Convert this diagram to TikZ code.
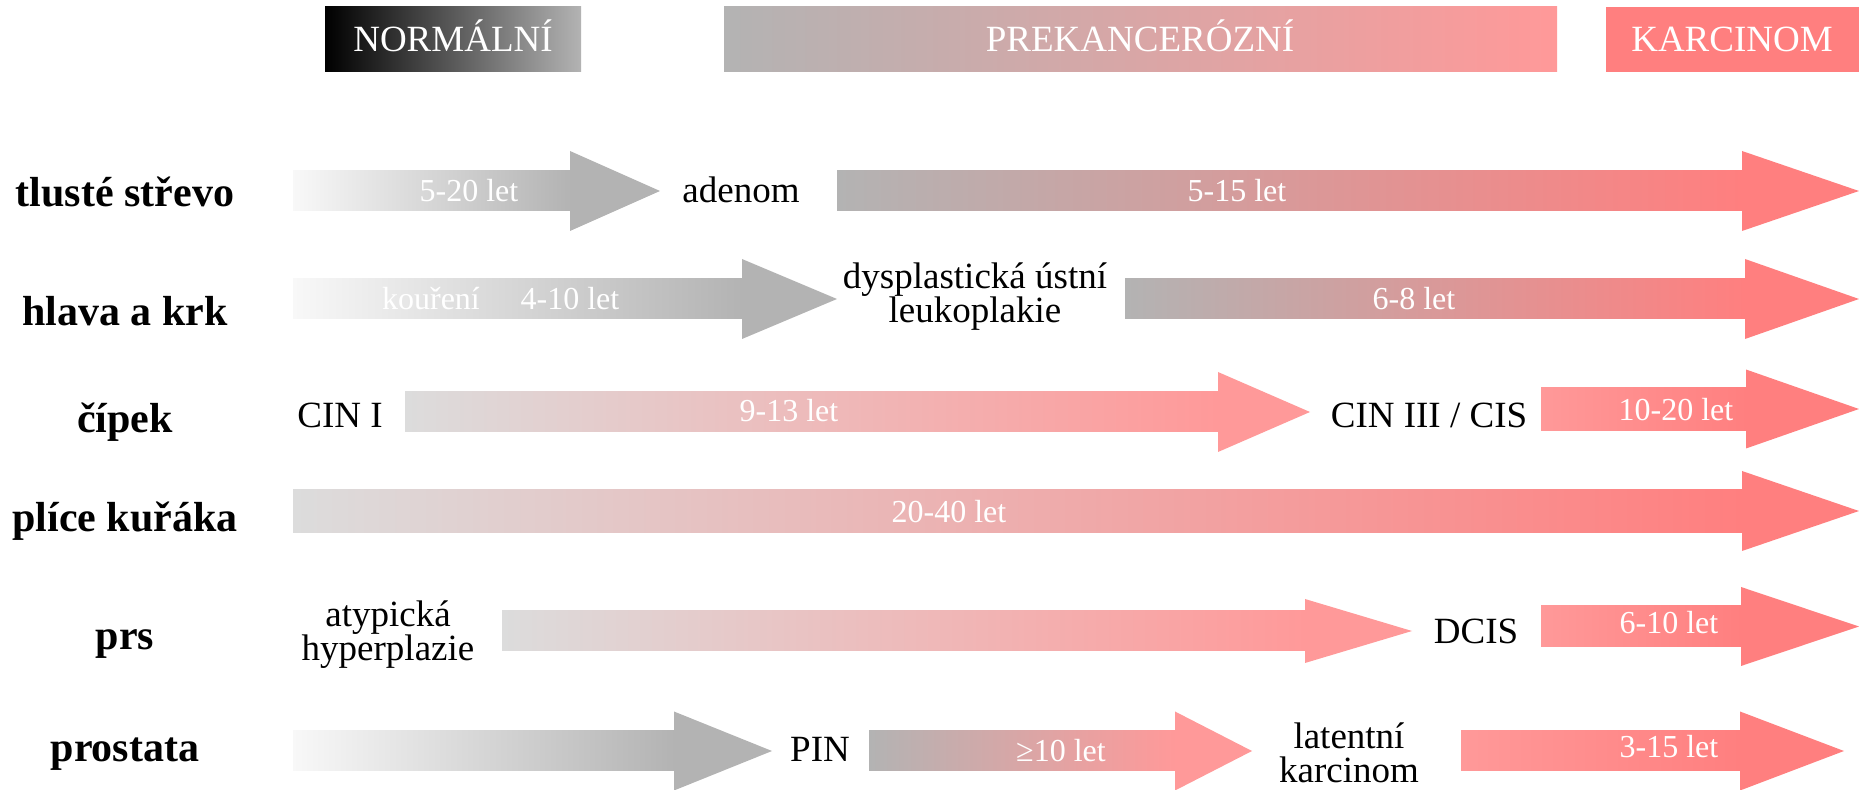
\documentclass[tikz,border=0pt]{standalone}
\usepackage{fontspec}
\setmainfont{Liberation Serif}

\definecolor{cpale}{RGB}{248,248,248}
\definecolor{clight}{RGB}{220,220,220}
\definecolor{cgray}{RGB}{179,179,179}
\definecolor{cpink}{RGB}{255,153,153}
\definecolor{csalmon}{RGB}{255,127,127}

% fat arrow: body shading, head colour, x start, x head, x tip, y, body half, head half
\newcommand{\blockarrow}[8]{%
  \shade[#1] (#3,#6-#7) rectangle (#4+1,#6+#7);
  \fill[#2] (#4,#6-#8) -- (#5,#6) -- (#4,#6+#8) -- cycle;
}
\newcommand{\tightlines}{\lineskiplimit=-20pt\relax}

\tikzset{
  palegray/.style={left color=cpale,right color=cgray},
  grayred/.style={left color=cgray,right color=csalmon},
  lightpink/.style={left color=clight,right color=cpink},
  pinkred/.style={left color=cpink,right color=csalmon},
  lightred/.style={left color=clight,right color=csalmon},
  graypink/.style={left color=cgray,right color=cpink},
  organ/.style={font=\fontsize{21}{25}\selectfont\bfseries,anchor=base,inner sep=0pt},
  stage/.style={font=\fontsize{18.5}{17.25}\selectfont\tightlines,anchor=base,align=center,inner sep=0pt},
  years/.style={font=\fontsize{16}{19}\selectfont,text=white,anchor=base,inner sep=0pt},
  phase/.style={font=\fontsize{18.5}{22}\selectfont,text=white,anchor=base,inner sep=0pt}
}

\begin{document}
\begin{tikzpicture}[x=0.5pt,y=-0.5pt]
\useasboundingbox (0,0) rectangle (1859,790);

% phases
\shade[left color=black,right color=cgray] (325,7) rectangle (581,72);
\shade[graypink] (724,7) rectangle (1557,72);
\fill[csalmon] (1606,7) rectangle (1859,72);
\node[phase] (normal) at (453,52) {NORMÁLNÍ};
\node[phase] (prekanc) at (1140,52) {PREKANCERÓZNÍ};
\node[phase] (karcin) at (1732,52) {KARCINOM};

% organs
\node[organ] (strevo) at (125,207) {tlusté střevo};
\node[organ] (hlava) at (125,326) {hlava a krk};
\node[organ] (cipek) at (125,433) {čípek};
\node[organ] (plice) at (125,532) {plíce kuřáka};
\node[organ] (prs) at (125,650) {prs};
\node[organ] (prostata) at (125,762) {prostata};

% tlusté střevo
\blockarrow{palegray}{cgray}{293}{570}{660}{191}{20}{40}
\blockarrow{grayred}{csalmon}{837}{1742}{1859}{191}{20}{40}
\node[years] (t1) at (469,202) {5-20 let};
\node[stage] (adenom) at (741,203) {adenom};
\node[years] (t2) at (1237,202) {5-15 let};

% hlava a krk
\blockarrow{palegray}{cgray}{293}{742}{837}{299}{20}{40}
\blockarrow{grayred}{csalmon}{1125}{1745}{1859}{299}{20}{40}
\node[years] (koureni) at (431,310) {kouření};
\node[years] (h1) at (570,310) {4-10 let};
\node[stage] (dyspl) at (975,323) {dysplastická ústní\\leukoplakie};
\node[years] (h2) at (1414,310) {6-8 let};

% čípek
\blockarrow{lightpink}{cpink}{405}{1218}{1310}{412}{20}{40}
\blockarrow{pinkred}{csalmon}{1541}{1746}{1859}{409}{21.5}{39.5}
\node[stage] (cin1) at (340,428) {CIN I};
\node[years] (c1) at (789,422) {9-13 let};
\node[stage] (cin3) at (1429,428) {CIN III / CIS};
\node[years] (c2) at (1676,421) {10-20 let};

% plíce kuřáka
\blockarrow{lightred}{csalmon}{293}{1742}{1859}{511}{21.5}{40}
\node[years] (p1) at (949,523) {20-40 let};

% prs
\blockarrow{lightpink}{cpink}{502}{1305}{1412}{631}{20}{32}
\blockarrow{pinkred}{csalmon}{1541}{1741}{1859}{626.5}{20.5}{39.5}
\node[stage] (atyp) at (388,661) {atypická\\hyperplazie};
\node[stage] (dcis) at (1476,644) {DCIS};
\node[years] (r2) at (1669,634) {6-10 let};

% prostata
\blockarrow{palegray}{cgray}{293}{674}{772}{751}{20}{39.5}
\blockarrow{graypink}{cpink}{869}{1175}{1252}{751}{20}{39.5}
\blockarrow{pinkred}{csalmon}{1461}{1740}{1844}{751}{20}{39.5}
\node[stage] (pin) at (820,762) {PIN};
\node[years] (s1) at (1061,762) {≥10 let};
\node[stage] (latent) at (1349,783) {latentní\\karcinom};
\node[years] (s2) at (1669,758) {3-15 let};
\end{tikzpicture}
\end{document}
